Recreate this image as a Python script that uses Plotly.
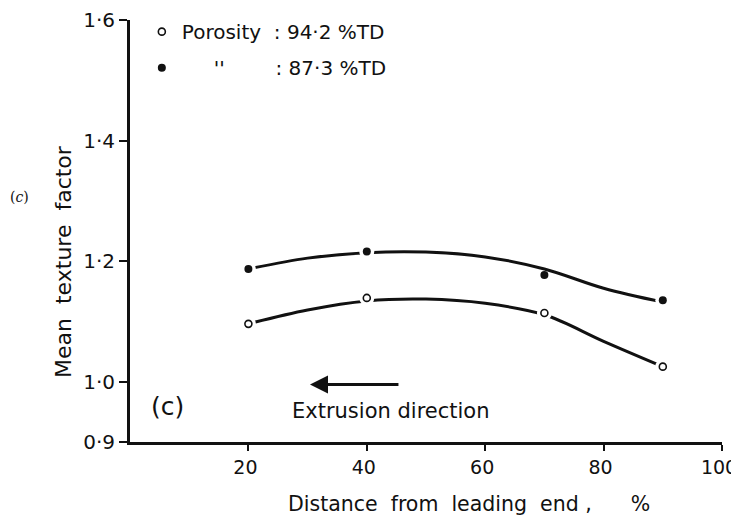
import plotly.graph_objects as go

# ---- data ----
positions = [20, 40, 70, 90]                      # distance from leading end, %
tf_942 = [1.096, 1.139, 1.114, 1.025]             # porosity 94.2 %TD (open circles)
tf_873 = [1.187, 1.216, 1.177, 1.135]             # porosity 87.3 %TD (filled circles)

curve_x = [20, 30, 40, 50, 60, 70, 80, 90]        # hand-drawn fitted curves
curve_942 = [1.096, 1.119, 1.134, 1.137, 1.130, 1.111, 1.067, 1.025]
curve_873 = [1.187, 1.205, 1.214, 1.215, 1.207, 1.187, 1.155, 1.132]

halo_942 = [True, True, True, True]               # points where the curve is broken
halo_873 = [True, True, False, True]

NB = "\u00a0"
y_tickvals = [0.9, 1.0, 1.2, 1.4, 1.6]
y_ticktext = ["0·9", "1·0", "1·2", "1·4", "1·6"]
x_tickvals = [20, 40, 60, 80, 100]
x_ticktext = ["20", "40", "60", "80", "100"]

INK = "#111111"
FONT = "DejaVu Sans"

fig = go.Figure()

# fitted curves
for cy in (curve_942, curve_873):
    fig.add_trace(go.Scatter(x=curve_x, y=cy, mode="lines",
                             line=dict(color=INK, width=3, shape="spline", smoothing=1.0),
                             showlegend=False, hoverinfo="skip"))

# white halos that break the curves around the markers
for ys, mask in ((tf_942, halo_942), (tf_873, halo_873)):
    hx = [x for x, m in zip(positions, mask) if m]
    hy = [y for y, m in zip(ys, mask) if m]
    fig.add_trace(go.Scatter(x=hx, y=hy, mode="markers",
                             marker=dict(size=15, color="white", line=dict(width=0)),
                             showlegend=False, hoverinfo="skip"))

fig.add_trace(go.Scatter(x=positions, y=tf_942, mode="markers",
                         name="Porosity" + NB + NB + ":" + NB + "94·2" + NB + "%TD",
                         legendgroup="a",
                         marker=dict(symbol="circle-open", size=7, color=INK,
                                     line=dict(width=1.6, color=INK))))
fig.add_trace(go.Scatter(x=positions, y=tf_873, mode="markers",
                         name=NB * 5 + "''" + NB * 8 + ":" + NB + "87·3" + NB + "%TD",
                         legendgroup="b",
                         marker=dict(symbol="circle", size=8, color=INK)))

fig.update_layout(
    width=739, height=520,
    margin=dict(l=122, r=25, t=12, b=86, autoexpand=False),
    paper_bgcolor="white", plot_bgcolor="white",
    font=dict(family=FONT, size=20, color=INK),
    showlegend=True,
    legend=dict(x=0.02, y=0.992, xanchor="left", yanchor="top", yref="container",
                bgcolor="rgba(0,0,0,0)", borderwidth=0,
                font=dict(family=FONT, size=20, color=INK),
                tracegroupgap=7, traceorder="grouped"),
    xaxis=dict(range=[0, 100], showline=True, linewidth=3, linecolor=INK,
               showgrid=False, zeroline=False, mirror=False,
               ticks="outside", ticklen=6, tickwidth=2, tickcolor=INK,
               tickvals=x_tickvals, ticktext=x_ticktext,
               ticklabelshift=-3, ticklabeloverflow="allow",
               tickfont=dict(family=FONT, size=19, color=INK)),
    yaxis=dict(range=[0.9, 1.6], showline=True, linewidth=3, linecolor=INK,
               showgrid=False, zeroline=False, mirror=False,
               ticks="outside", ticklen=8, tickwidth=2, tickcolor=INK,
               tickvals=y_tickvals, ticktext=y_ticktext,
               tickfont=dict(family=FONT, size=20, color=INK)),
)

annotations = [
    dict(text="Mean" + NB + " texture" + NB + " factor", textangle=-90,
         x=-0.1115, y=0.429, xref="paper", yref="paper",
         xanchor="center", yanchor="middle", showarrow=False,
         font=dict(family=FONT, size=22, color=INK)),
    dict(text="Distance" + NB * 2 + "from" + NB * 2 + "leading" + NB * 2 + "end" + NB + "," + NB * 6 + "%",
         x=0.2635, y=-0.148, xref="paper", yref="paper",
         xanchor="left", yanchor="middle", showarrow=False,
         font=dict(family=FONT, size=20.5, color=INK)),
    dict(text="(<i>c</i>)", x=-0.186, y=0.58, xref="paper", yref="paper",
         xanchor="center", yanchor="middle", showarrow=False,
         font=dict(family="DejaVu Serif", size=14, color=INK)),
    dict(text="(c)", x=0.064, y=0.084, xref="paper", yref="paper",
         xanchor="center", yanchor="middle", showarrow=False,
         font=dict(family=FONT, size=25, color=INK)),
    dict(text="Extrusion" + NB + "direction", x=0.270, y=0.0745, xref="paper", yref="paper",
         xanchor="left", yanchor="middle", showarrow=False,
         font=dict(family=FONT, size=21, color=INK)),
    dict(text="", x=30.4, y=0.9955, xref="x", yref="y",
         ax=45.6, ay=0.9955, axref="x", ayref="y",
         showarrow=True, arrowhead=2, arrowsize=1.2, arrowwidth=3, arrowcolor=INK),
]
fig.update_layout(annotations=annotations)

fig.write_html("out.html")
